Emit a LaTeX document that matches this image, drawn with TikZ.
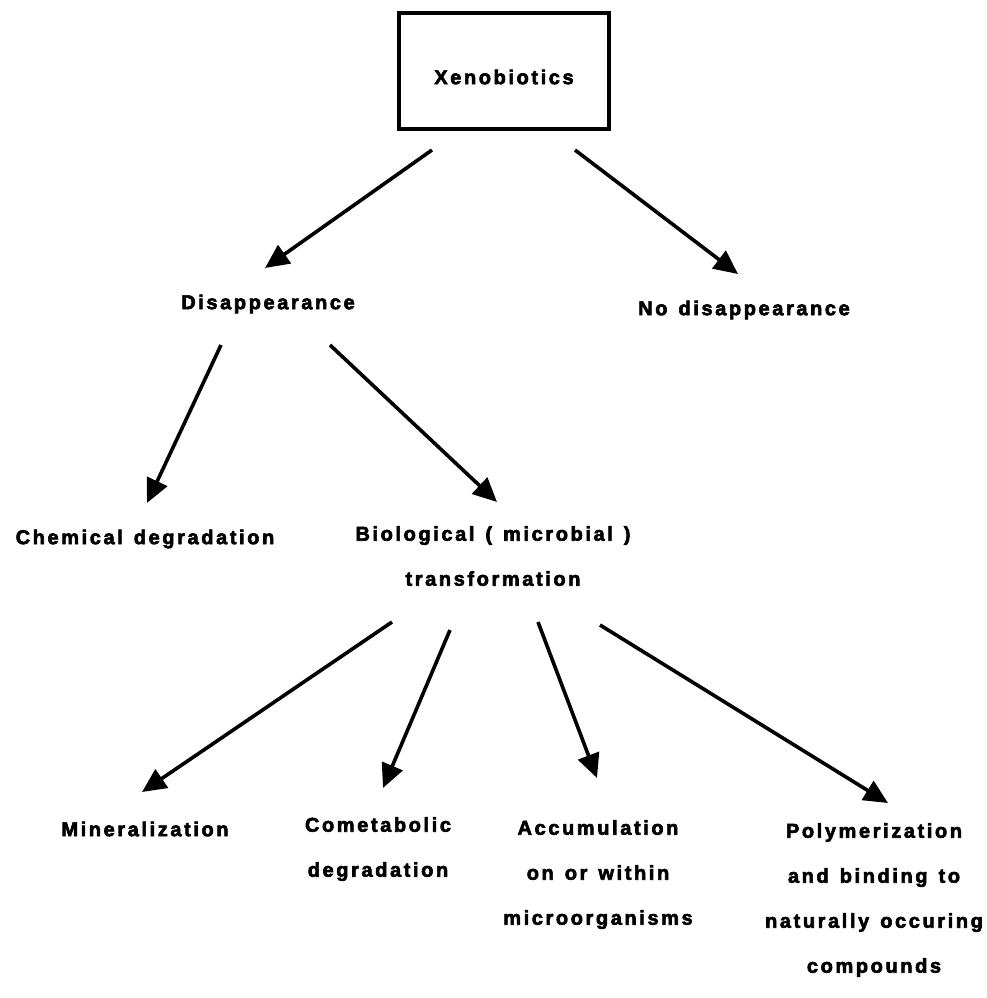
\documentclass[tikz,border=0pt]{standalone}
\usepackage{fontspec}
\setmainfont{Liberation Sans}[LetterSpace=13,WordSpace=1.35,BoldFeatures={FakeBold=3}]
\usetikzlibrary{arrows.meta}
\begin{document}
\begin{tikzpicture}[x=1pt,y=-1pt,
  lbl/.style={font=\bfseries\fontsize{20}{45}\selectfont, align=center, inner sep=0pt},
  arr/.style={line width=3.6pt, -{Triangle[length=24pt,width=22pt]}}]
\useasboundingbox (0,0) rectangle (987,998);
\node[draw, line width=3.8pt, minimum width=210pt, minimum height=116pt] (xeno) at (504,71) {};
\node[lbl] (xenot) at (504,77) {Xenobiotics};
\node[lbl] (dis) at (268,304) {Disappearance};
\node[lbl] (nodis) at (744,310) {No disappearance};
\node[lbl] (chem) at (145,539) {Chemical degradation};
\node[lbl, anchor=north] (bio) at (493,526) {Biological ( microbial )\\transformation};
\node[lbl] (mine) at (145,829) {Mineralization};
\node[lbl, anchor=north] (come) at (378,817) {Cometabolic\\degradation};
\node[lbl, anchor=north] (accu) at (598,820) {Accumulation\\on or within\\microorganisms};
\node[lbl, anchor=north] (poly) at (874,823) {Polymerization\\and binding to\\naturally occuring\\compounds};
% arrow end points
\coordinate (a1s) at (432,150); \coordinate (a1e) at (265,268);
\coordinate (a2s) at (575,150); \coordinate (a2e) at (738,274);
\coordinate (a3s) at (221,345); \coordinate (a3e) at (147,503);
\coordinate (a4s) at (330,345); \coordinate (a4e) at (497,502);
\coordinate (a5s) at (392,622); \coordinate (a5e) at (142,792);
\coordinate (a6s) at (450,630); \coordinate (a6e) at (383,788);
\coordinate (a7s) at (538,622); \coordinate (a7e) at (597,778);
\coordinate (a8s) at (600,625); \coordinate (a8e) at (888,803);
\draw[arr] (a1s) -- (a1e);
\draw[arr] (a2s) -- (a2e);
\draw[arr] (a3s) -- (a3e);
\draw[arr] (a4s) -- (a4e);
\draw[arr] (a5s) -- (a5e);
\draw[arr] (a6s) -- (a6e);
\draw[arr] (a7s) -- (a7e);
\draw[arr] (a8s) -- (a8e);
\end{tikzpicture}
\end{document}
